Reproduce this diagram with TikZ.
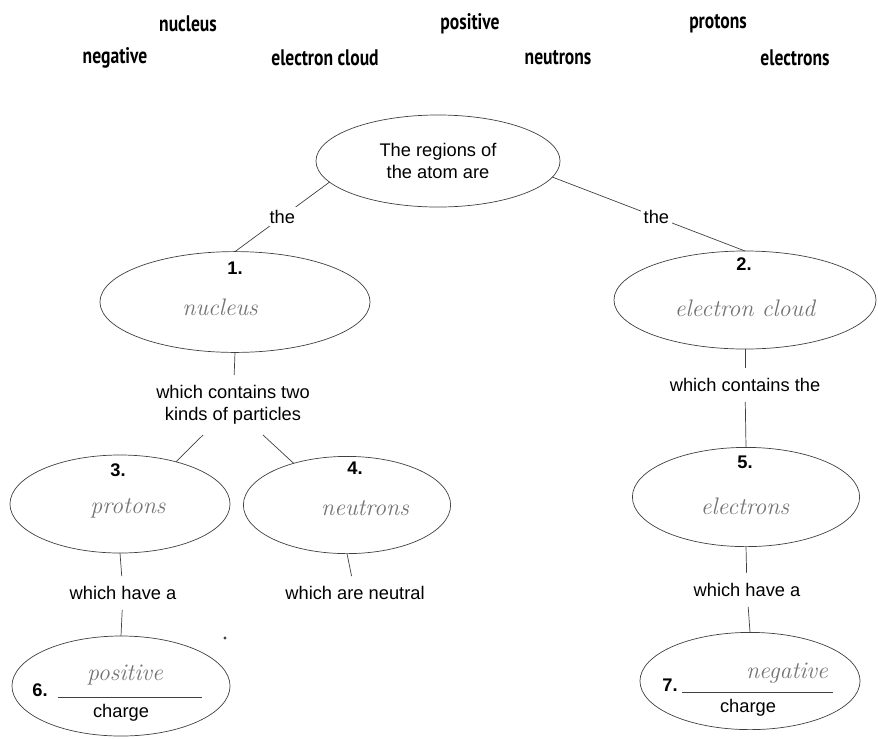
\documentclass[tikz,border=0pt]{standalone}
\usepackage{fontspec}
\setsansfont{Liberation Sans}
\newfontfamily\bankfont{PT Sans}[FakeStretch=0.78]
\usetikzlibrary{shapes.geometric,calc,positioning}
\tikzset{
  font=\sffamily\fontsize{13}{16}\selectfont,
  oval/.style={
    draw=black!75,
    ellipse,
    line width=0.5pt,
    inner sep=0pt,
    outer sep=0pt
  },
  word/.style={
    font=\bankfont\bfseries\fontsize{16}{18}\selectfont
  },
  lbl/.style={
    align=center,
    inner xsep=2pt,
    inner ysep=7pt
  },
  num/.style={
    font=\sffamily\bfseries\fontsize{13}{15}\selectfont
  },
  hand/.style={
    font=\rmfamily\itshape\fontsize{17}{19}\selectfont,
    text=black!55
  },
  link/.style={draw=black!75, line width=0.5pt},
  thelbl/.style={fill=white, inner sep=2pt}
}

\begin{document}
\begin{tikzpicture}[x=0.025cm, y=-0.025cm]
\useasboundingbox (0,0) rectangle (878,738);

% word bank
\node[word] (wnucleus) at (188,24) {nucleus};
\node[word] (wpositive) at (470,24) {positive};
\node[word] (wprotons) at (718,24) {protons};
\node[word] (wnegative) at (115,58) {negative};
\node[word] (wcloud) at (325,58) {electron cloud};
\node[word] (wneutrons) at (558,58) {neutrons};
\node[word] (welectrons) at (795,58) {electrons};

% regions
\node[oval, minimum width=6.1cm, minimum height=2.3cm, align=center] (atom) at (438,161) {The regions of\\the atom are};

\node[oval, minimum width=6.75cm, minimum height=2.52cm] (nucleus) at (235,302) {};
\node[num] (num1) at (235,268) {1.};
\node[hand] (ans1) at (220,307) {nucleus};

\node[oval, minimum width=6.55cm, minimum height=2.45cm] (cloud) at (745,300) {};
\node[num] (num2) at (744,264) {2.};
\node[hand] (ans2) at (745,308) {electron cloud};

\draw[link] (atom.191) -- node[thelbl] {the} (nucleus.north);
\draw[link] (atom.352) -- node[thelbl, pos=0.54] {the} (cloud.north);

% left branch
\node[lbl] (contains1) at (233,405) {which contains two\\kinds of particles};

\node[oval, minimum width=5.5cm, minimum height=2.45cm] (protons) at (120,504) {};
\node[num] (num3) at (118,470) {3.};
\node[hand] (ans3) at (128,508) {protons};

\node[oval, minimum width=5.18cm, minimum height=2.43cm] (neutrons) at (347,505) {};
\node[num] (num4) at (355,468) {4.};
\node[hand] (ans4) at (365,508) {neutrons};

\node[lbl] (have1) at (123,593) {which have a};
\node[lbl] (neutral) at (355,593) {which are neutral};

\node[oval, minimum width=5.45cm, minimum height=2.5cm] (pcharge) at (121,686) {};
\node[num] (num6) at (40,690) {6.};
\node[hand] (ans6) at (125,675) {positive};
\node (chg6) at (121,713) {charge};
\draw[link] (58,697) -- (202,697);
\fill[black!75] (225,638) circle (1.2pt);

\draw[link] (nucleus.south) -- (contains1);
\draw[link] (contains1.225) -- (protons.37);
\draw[link] (contains1.315) -- (neutrons.142);
\draw[link] (protons.south) -- (have1);
\draw[link] (neutrons.south) -- (neutral);
\draw[link] (have1) -- (pcharge.north);

% right branch
\node[lbl] (contains2) at (745,385) {which contains the};

\node[oval, minimum width=5.68cm, minimum height=2.48cm] (electrons) at (746,497) {};
\node[num] (num5) at (745,462) {5.};
\node[hand] (ans5) at (745,506) {electrons};

\node[lbl] (have2) at (747,590) {which have a};

\node[oval, minimum width=5.5cm, minimum height=2.43cm] (ncharge) at (750,681) {};
\node[num] (num7) at (670,685) {7.};
\node[hand] (ans7) at (787,673) {negative};
\node (chg7) at (748,708) {charge};
\draw[link] (682,692) -- (833,692);

\draw[link] (cloud.south) -- (contains2);
\draw[link] (contains2) -- (electrons.north);
\draw[link] (electrons.south) -- (have2);
\draw[link] (have2) -- (ncharge.north);

\end{tikzpicture}
\end{document}
